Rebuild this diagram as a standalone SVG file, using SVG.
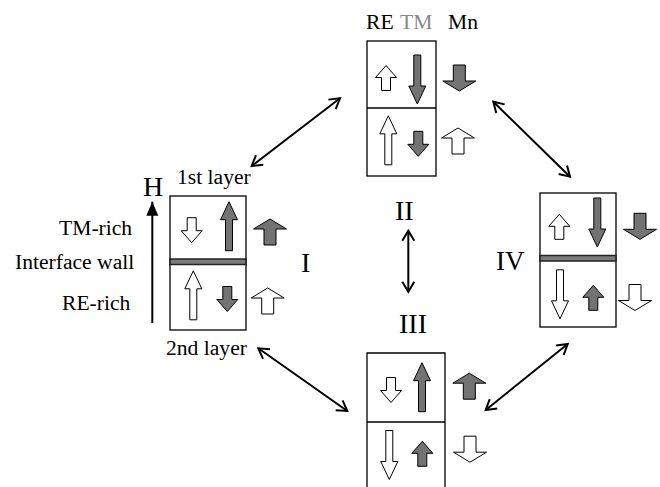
<svg xmlns="http://www.w3.org/2000/svg" xmlns:xlink="http://www.w3.org/1999/xlink" width="660" height="487" viewBox="0 0 660 487">
<style>
.t{font-family:"Liberation Serif","Times New Roman",serif;font-size:21.6px;fill:#000}
.n{font-family:"Liberation Serif","Times New Roman",serif;font-size:28px;fill:#000}
.box{fill:#fff;stroke:#000;stroke-width:1.3}
.div{stroke:#000;stroke-width:1.3}
.band{fill:#7a7a7a;stroke:#222;stroke-width:1.5}
.w{fill:#fff;stroke:#000;stroke-width:1}
.g{fill:#737373;stroke:#000;stroke-width:1}
.c{fill:none;stroke:#000;stroke-width:2}
</style>
<defs>
<path id="L" d="M0,-24.5 L8.5,-6.5 L3.5,-6.5 L3.5,24.5 L-3.5,24.5 L-3.5,-6.5 L-8.5,-6.5 Z"/>
<path id="S" d="M0,-12.5 L10.5,-0.5 L4.5,-0.5 L4.5,12.5 L-4.5,12.5 L-4.5,-0.5 L-10.5,-0.5 Z"/>
<path id="T" d="M0,-13 L16.5,-3 L6,-3 L6,13 L-6,13 L-6,-3 L-16.5,-3 Z"/>
<marker id="v" viewBox="-12 -8 14 16" refX="0" refY="0" markerWidth="14" markerHeight="16" markerUnits="userSpaceOnUse" orient="auto-start-reverse">
<path d="M-10,-6 L0,0 L-10,6" fill="none" stroke="#000" stroke-width="2"/>
</marker>
<marker id="f" viewBox="-14 -7 15 14" refX="0" refY="0" markerWidth="15" markerHeight="14" markerUnits="userSpaceOnUse" orient="auto">
<path d="M-14,-6 L0,0 L-14,6 Z" fill="#000"/>
</marker>
</defs>

<g id="labels">
<text class="t" x="366" y="29">RE</text>
<text class="t" x="400" y="29" style="fill:#8a8a8a">TM</text>
<text class="t" x="448" y="29">Mn</text>
<text class="t" x="177" y="184">1st layer</text>
<text class="n" x="143" y="196">H</text>
<text class="t" x="59" y="235">TM-rich</text>
<text class="t" x="15" y="269">Interface wall</text>
<text class="t" x="62" y="310">RE-rich</text>
<text class="t" x="166" y="355">2nd layer</text>
</g>

<g id="node-II">
<rect class="box" x="367" y="41" width="69" height="135"/>
<line class="div" x1="367" y1="108" x2="436" y2="108"/>
<use xlink:href="#S" class="w" transform="translate(386,78)"/>
<use xlink:href="#L" class="g" transform="translate(417.3,79.5) rotate(180)"/>
<use xlink:href="#L" class="w" transform="translate(388.3,140.3)"/>
<use xlink:href="#S" class="g" transform="translate(418.3,143.8) rotate(180)"/>
<use xlink:href="#T" class="g" transform="translate(459.3,78) rotate(180)"/>
<use xlink:href="#T" class="w" transform="translate(458,141)"/>
<text class="n" x="395" y="220">II</text>
</g>

<g id="node-I">
<rect class="box" x="170" y="196" width="76" height="134"/>
<rect class="band" x="170" y="259" width="76" height="5.5"/>
<use xlink:href="#S" class="w" transform="translate(191.7,230.2) rotate(180)"/>
<use xlink:href="#L" class="g" transform="translate(229,226.2)"/>
<use xlink:href="#T" class="g" transform="translate(270,232)"/>
<use xlink:href="#L" class="w" transform="translate(193.3,295.3)"/>
<use xlink:href="#S" class="g" transform="translate(227.3,299) rotate(180)"/>
<use xlink:href="#T" class="w" transform="translate(267.7,301)"/>
<text class="n" x="301" y="272">I</text>
</g>

<g id="node-IV">
<rect class="box" x="540" y="193" width="76" height="134"/>
<rect class="band" x="540" y="255.5" width="76" height="5.5"/>
<use xlink:href="#S" class="w" transform="translate(559.3,226.8)"/>
<use xlink:href="#L" class="g" transform="translate(597.3,222.5) rotate(180)"/>
<use xlink:href="#T" class="g" transform="translate(640,226.3) rotate(180)"/>
<use xlink:href="#L" class="w" transform="translate(560,294.3) rotate(180)"/>
<use xlink:href="#S" class="g" transform="translate(593.3,297.8)"/>
<use xlink:href="#T" class="w" transform="translate(635,297.5) rotate(180)"/>
<text class="n" x="496" y="270" style="font-size:27px">IV</text>
</g>

<g id="node-III">
<path class="box" d="M367,490 L367,353 L445,353 L445,490" />
<line class="div" x1="367" y1="422" x2="445" y2="422"/>
<use xlink:href="#S" class="w" transform="translate(391,390) rotate(180)"/>
<use xlink:href="#L" class="g" transform="translate(422,387.2)"/>
<use xlink:href="#T" class="g" transform="translate(469.3,386.2)"/>
<use xlink:href="#L" class="w" transform="translate(389.3,455) rotate(180)"/>
<use xlink:href="#S" class="g" transform="translate(422.3,453.8)"/>
<use xlink:href="#T" class="w" transform="translate(470,449.2) rotate(180)"/>
<text class="n" x="399" y="333">III</text>
</g>

<g id="connectors">
<line class="c" x1="340" y1="98.3" x2="251.7" y2="166" marker-start="url(#v)" marker-end="url(#v)"/>
<line class="c" x1="493.3" y1="101.7" x2="570" y2="176.7" marker-start="url(#v)" marker-end="url(#v)"/>
<line class="c" x1="258.3" y1="348.3" x2="347.3" y2="411" marker-start="url(#v)" marker-end="url(#v)"/>
<line class="c" x1="567.7" y1="344" x2="485.7" y2="410" marker-start="url(#v)" marker-end="url(#v)"/>
<line class="c" x1="408.3" y1="230.7" x2="408.3" y2="291.7" marker-start="url(#v)" marker-end="url(#v)"/>
<line class="c" x1="152.3" y1="323" x2="152.3" y2="201.7" stroke-width="2.5" marker-end="url(#f)"/>
</g>
</svg>
